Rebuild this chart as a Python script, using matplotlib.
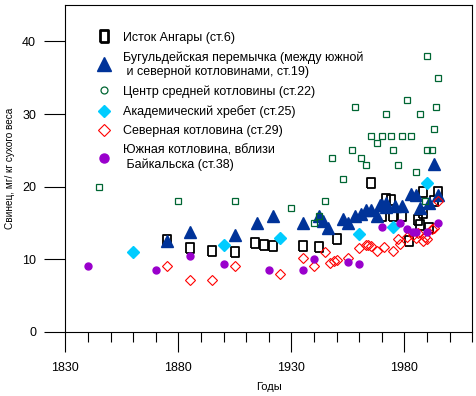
import matplotlib
matplotlib.use('Agg')
import matplotlib.pyplot as plt
from matplotlib.lines import Line2D
from matplotlib.ticker import MultipleLocator

plt.rcParams['font.family'] = ['Liberation Sans', 'DejaVu Sans']
plt.rcParams['font.size'] = 9

# Исток Ангары (ст.6)
angara_years = [1875, 1885, 1895, 1905, 1914, 1918, 1922, 1935, 1942, 1950, 1965, 1970, 1972,
                1974, 1975, 1979, 1982, 1986, 1987, 1988, 1988, 1991, 1993, 1995]
angara_pb = [12.7, 11.5, 11.1, 11.0, 12.3, 12.0, 11.8, 11.8, 11.7, 12.8, 20.5, 15.9, 18.3,
             18.2, 15.9, 15.9, 12.5, 15.4, 14.7, 19.2, 16.4, 14.3, 18.0, 19.3]

# Бугульдейская перемычка (ст.19)
bug_years = [1875, 1885, 1905, 1915, 1922, 1935, 1942, 1944, 1946, 1953, 1955, 1958, 1961, 1963,
             1965, 1968, 1969, 1970, 1972, 1972, 1976, 1979, 1983, 1985, 1987, 1991, 1993, 1995]
bug_pb = [12.5, 13.8, 13.3, 15.0, 16.0, 15.0, 16.0, 15.2, 14.3, 15.6, 15.0, 16.0, 16.2, 16.8,
          16.8, 16.0, 17.5, 17.5, 17.7, 17.2, 17.4, 17.3, 19.0, 18.8, 17.1, 17.8, 23.1, 18.8]

# Центр средней котловины (ст.22)
center_years = [1845, 1880, 1905, 1930, 1940, 1942, 1945, 1948, 1953, 1957, 1958, 1961, 1963,
                1965, 1968, 1970, 1972, 1974, 1975, 1977, 1979, 1981, 1983, 1985, 1987, 1989,
                1990, 1990, 1992, 1993, 1994, 1995]
center_pb = [20, 18, 18, 17, 15, 16, 18, 24, 21, 25, 31, 24, 23,
             27, 26, 27, 30, 27, 25, 23, 27, 32, 27, 22, 30, 18,
             38, 25, 25, 28, 31, 35]

# Академический хребет (ст.25)
akadem_years = [1860, 1900, 1925, 1960, 1975, 1990]
akadem_pb = [11.0, 12.0, 12.9, 13.5, 14.5, 20.5]

# Северная котловина (ст.29)
north_years = [1875, 1885, 1895, 1905, 1925, 1935, 1940, 1945, 1947, 1949, 1950, 1955, 1960,
               1963, 1964, 1965, 1968, 1971, 1975, 1977, 1978, 1981, 1984, 1985, 1986, 1988,
               1989, 1990, 1992, 1993, 1995]
north_pb = [9.1, 7.1, 7.1, 9.1, 8.0, 10.2, 9.1, 11.0, 9.5, 9.8, 9.9, 10.2, 11.6,
            12.0, 12.0, 11.8, 11.1, 11.7, 11.1, 12.8, 12.1, 13.1, 13.4, 12.9, 13.6, 12.5,
            13.1, 12.8, 14.2, 14.3, 18.0]

# Южная котловина, вблизи Байкальска (ст.38)
south_years = [1840, 1870, 1885, 1900, 1920, 1935, 1940, 1955, 1960, 1970, 1978, 1981, 1984,
               1985, 1990, 1995]
south_pb = [9.1, 8.5, 10.5, 9.4, 8.5, 8.5, 10.0, 9.6, 9.4, 14.5, 15.0, 14.1, 13.8,
            13.8, 13.8, 15.0]

labels = ['Исток Ангары (ст.6)',
          'Бугульдейская перемычка (между южной\n и северной котловинами, ст.19)',
          'Центр средней котловины (ст.22)',
          'Академический хребет (ст.25)',
          'Северная котловина (ст.29)',
          'Южная котловина, вблизи\n Байкальска (ст.38)']

navy = '#003399'
green = '#006633'
cyan = '#00CCFF'
red = '#FF0000'
purple = '#9900CC'
rect = [(-0.78, -1), (0.78, -1), (0.78, 1), (-0.78, 1), (-0.78, -1)]

fig = plt.figure(figsize=(4.77, 3.96), dpi=100)
ax = fig.add_axes([0.137, 0.162, 0.853, 0.825])

ax.plot(angara_years, angara_pb, ls='none', marker=rect, ms=7, mfc='none', mec='black', mew=1.3)
ax.plot(bug_years, bug_pb, ls='none', marker='^', ms=9, color=navy, mec=navy)
ax.plot(center_years, center_pb, ls='none', marker='s', ms=4.3, mfc='none', mec=green, mew=0.9)
ax.plot(akadem_years, akadem_pb, ls='none', marker='D', ms=5.7, color=cyan, mec=cyan)
ax.plot(north_years, north_pb, ls='none', marker='D', ms=5.3, mfc='none', mec=red, mew=0.8)
ax.plot(south_years, south_pb, ls='none', marker='o', ms=5, color=purple, mec=purple)

handles = [
    Line2D([], [], ls='none', marker=rect, ms=8, mfc='none', mec='black', mew=2),
    Line2D([], [], ls='none', marker='^', ms=9.5, color=navy),
    Line2D([], [], ls='none', marker='o', ms=5, mfc='none', mec=green, mew=0.9),
    Line2D([], [], ls='none', marker='D', ms=6.5, color=cyan),
    Line2D([], [], ls='none', marker='D', ms=6, mfc='none', mec=red, mew=0.8),
    Line2D([], [], ls='none', marker='o', ms=6.5, color=purple),
]
leg = ax.legend(handles, labels, loc='upper left', bbox_to_anchor=(0.08, 0.919), frameon=False,
                handlelength=0.95, handletextpad=1.05, labelspacing=0.6, borderpad=0,
                borderaxespad=0)
for t in leg.get_texts():
    t.set_linespacing(1.15)

ax.set_xlim(1830, 2010)
ax.set_ylim(0, 45)
ax.set_xticks([1830, 1880, 1930, 1980])
ax.xaxis.set_minor_locator(MultipleLocator(10))
ax.set_yticks([0, 10, 20, 30, 40])
ax.tick_params(axis='x', which='major', direction='out', length=14.4, width=0.8, pad=7)
ax.tick_params(axis='x', which='minor', direction='out', length=7.2, width=0.8)
ax.tick_params(axis='y', which='major', direction='out', length=15, width=0.8, pad=6)
for s in ax.spines.values():
    s.set_linewidth(0.8)

ax.set_xlabel('Годы', fontsize=8, labelpad=6)
ax.set_ylabel('Свинец, мг/ кг сухого веса', fontsize=7.2, labelpad=5)

fig.savefig('out.png', dpi=100)
